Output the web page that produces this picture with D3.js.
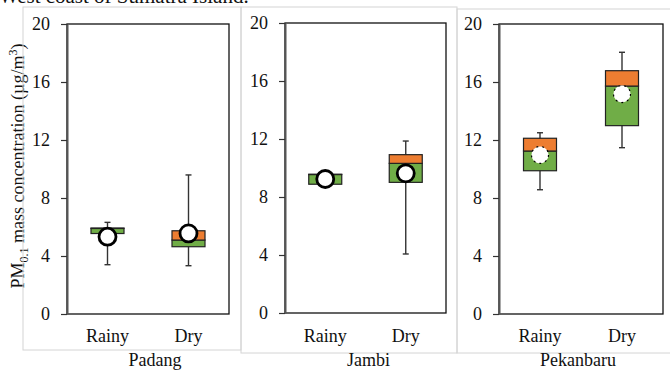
<!DOCTYPE html>
<html>
<head>
<meta charset="utf-8">
<script src="https://cdn.jsdelivr.net/npm/d3@7"></script>
<style>
  body { margin: 0; background: #fff; }
  svg text { font-family: "Liberation Serif", "Times New Roman", Tinos, Times, serif; fill: #111; }
</style>
</head>
<body>
<div id="chart"></div>
<script>
// values (PM0.1, ug/m3), one entry per site: [Rainy, Dry]
var sites = ["Padang", "Jambi", "Pekanbaru"];
var seasons = ["Rainy", "Dry"];
var whiskerMin = [[3.40, 3.33], [8.90, 4.07], [8.57, 11.47]];
var q1 = [[5.55, 4.64], [8.88, 9.01], [9.88, 12.99]];
var median = [[5.90, 5.10], [9.55, 10.32], [11.24, 15.72]];
var q3 = [[5.93, 5.74], [9.57, 10.92], [12.12, 16.78]];
var whiskerMax = [[6.32, 9.59], [9.60, 11.86], [12.50, 18.05]];
var means = [[5.33, 5.56], [9.24, 9.63], [10.97, 15.17]];
var yTicks = [0, 4, 8, 12, 16, 20];

var W = 670, H = 370;
var green = "#70AD47", orange = "#ED7D31";
var fs = "18px";

// panel placement
var panels = [
  { left: 67, right: 229, top: 24, bottom: 314, frame: [23, 7, 241, 350], dashed: false },
  { left: 285, right: 446, top: 23, bottom: 313, frame: [241, 7, 457, 353], dashed: false },
  { left: 499, right: 663, top: 24, bottom: 314, frame: [457, 9, 672, 353], dashed: true }
];

var svg = d3.select("#chart").append("svg")
  .attr("width", W).attr("height", H);

// caption cut off at the top of the picture
svg.append("text")
  .attr("x", -1).attr("y", 3)
  .attr("font-size", "21px")
  .text("West coast of Sumatra Island.");

// y axis title
var title = svg.append("text")
  .attr("transform", "translate(24,166) rotate(-90)")
  .attr("text-anchor", "middle")
  .attr("font-size", fs);
title.append("tspan").text("PM");
title.append("tspan").attr("font-size", "12px").attr("dy", "4").text("0.1");
title.append("tspan").attr("dy", "-4").text(" mass concentration (µg/m");
title.append("tspan").attr("font-size", "12px").attr("dy", "-7").text("3");
title.append("tspan").attr("dy", "7").text(")");

var boxW = 33;

panels.forEach(function(p, i) {
  var g = svg.append("g");

  // light frame around each panel
  g.append("rect")
    .attr("x", p.frame[0]).attr("y", p.frame[1])
    .attr("width", p.frame[2] - p.frame[0]).attr("height", p.frame[3] - p.frame[1])
    .attr("fill", "none").attr("stroke", "#d4d4d4").attr("stroke-width", 1);

  var y = d3.scaleLinear().domain([0, 20]).range([p.bottom, p.top]);
  var x = d3.scalePoint().domain(seasons).range([p.left, p.right]).padding(0.5);

  // plot border
  g.append("rect")
    .attr("x", p.left).attr("y", p.top)
    .attr("width", p.right - p.left).attr("height", p.bottom - p.top)
    .attr("fill", "none").attr("stroke", "#111").attr("stroke-width", 1.3);

  var axis = g.append("g")
    .attr("transform", "translate(" + p.left + ",0)")
    .call(d3.axisLeft(y).tickValues(yTicks).tickSize(6).tickSizeOuter(0).tickPadding(11));
  axis.attr("font-family", null).attr("font-size", null);
  axis.select(".domain").attr("stroke", "#555").attr("stroke-width", 2);
  axis.selectAll(".tick line").attr("stroke", "#333").attr("stroke-width", 1.2);
  axis.selectAll(".tick text")
    .attr("font-size", fs)
    .attr("fill", "#111");

  // category labels
  g.selectAll(".cat").data(seasons).enter().append("text")
    .attr("x", function(d) { return x(d); })
    .attr("y", 342)
    .attr("text-anchor", "middle")
    .attr("font-size", fs)
    .text(function(d) { return d; });

  // site label
  g.append("text")
    .attr("x", (p.left + p.right) / 2 + (i === 0 ? 7 : i === 1 ? 3 : -3))
    .attr("y", 366)
    .attr("text-anchor", "middle")
    .attr("font-size", fs)
    .text(sites[i]);

  var rows = seasons.map(function(s, j) {
    return {
      season: s,
      lo: whiskerMin[i][j], q1: q1[i][j], med: median[i][j],
      q3: q3[i][j], hi: whiskerMax[i][j], mean: means[i][j]
    };
  });

  var box = g.selectAll(".box").data(rows).enter().append("g");

  // whiskers
  box.append("line")
    .attr("x1", function(d) { return x(d.season); })
    .attr("x2", function(d) { return x(d.season); })
    .attr("y1", function(d) { return y(d.lo); })
    .attr("y2", function(d) { return y(d.hi); })
    .attr("stroke", "#333").attr("stroke-width", 1.4);
  ["lo", "hi"].forEach(function(k) {
    box.append("line")
      .attr("x1", function(d) { return x(d.season) - 3; })
      .attr("x2", function(d) { return x(d.season) + 3; })
      .attr("y1", function(d) { return y(d[k]); })
      .attr("y2", function(d) { return y(d[k]); })
      .attr("stroke", "#333").attr("stroke-width", 1.4);
  });

  // lower half green, upper half orange
  box.append("rect")
    .attr("x", function(d) { return x(d.season) - boxW / 2; })
    .attr("y", function(d) { return y(d.med); })
    .attr("width", boxW)
    .attr("height", function(d) { return y(d.q1) - y(d.med); })
    .attr("fill", green).attr("stroke", "#222").attr("stroke-width", 1.2);
  box.append("rect")
    .attr("x", function(d) { return x(d.season) - boxW / 2; })
    .attr("y", function(d) { return y(d.q3); })
    .attr("width", boxW)
    .attr("height", function(d) { return y(d.med) - y(d.q3); })
    .attr("fill", orange).attr("stroke", "#222").attr("stroke-width", 1.2);

  // mean marker
  box.append("circle")
    .attr("cx", function(d) { return x(d.season); })
    .attr("cy", function(d) { return y(d.mean); })
    .attr("r", p.dashed ? 8.5 : 8.5)
    .attr("fill", "#fff")
    .attr("stroke", "#000")
    .attr("stroke-width", p.dashed ? 1.2 : 2.8)
    .attr("stroke-dasharray", p.dashed ? "2,4" : null);
});
</script>
</body>
</html>
